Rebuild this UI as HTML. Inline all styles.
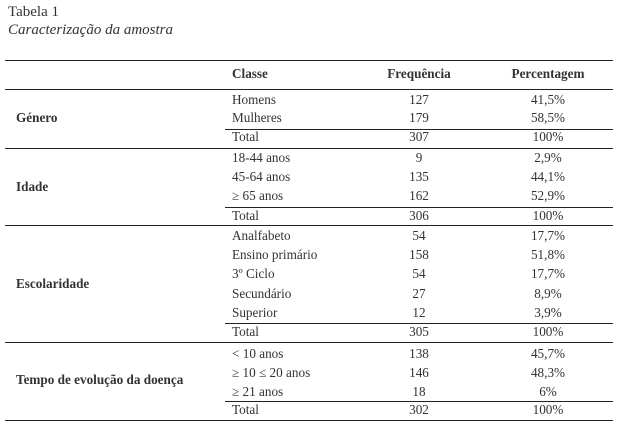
<!DOCTYPE html>
<html><head><meta charset="utf-8"><style>
body{margin:0;width:618px;height:426px;background:#fff;position:relative;overflow:hidden;font-family:"Liberation Serif",serif;color:#333;font-size:13.2px}
.t{position:absolute;white-space:nowrap;line-height:14px}
.c{transform:translateX(-50%)}
.b{font-weight:bold}
.l{position:absolute;height:1px;background:#222;right:5px}
</style></head><body>
<div class="t" style="left:8px;top:4px;font-size:15px;line-height:17px">Tabela 1</div>
<div class="t" style="left:8px;top:22px;font-size:15px;line-height:17px;font-style:italic">Caracterização da amostra</div>
<div class="l" style="left:5px;top:60px"></div>
<div class="t b" style="left:232px;top:67px">Classe</div>
<div class="t b c" style="left:419px;top:67px">Frequência</div>
<div class="t b c" style="left:548px;top:67px">Percentagem</div>
<div class="l" style="left:5px;top:89px"></div>

<div class="t b" style="left:16px;top:111px">Género</div>
<div class="t" style="left:232px;top:93px">Homens</div><div class="t c" style="left:419px;top:93px">127</div><div class="t c" style="left:548px;top:93px">41,5%</div>
<div class="t" style="left:232px;top:111px">Mulheres</div><div class="t c" style="left:419px;top:111px">179</div><div class="t c" style="left:548px;top:111px">58,5%</div>
<div class="l" style="left:225px;top:129px"></div>
<div class="t" style="left:232px;top:130px">Total</div><div class="t c" style="left:419px;top:130px">307</div><div class="t c" style="left:548px;top:130px">100%</div>
<div class="l" style="left:5px;top:148px"></div>

<div class="t b" style="left:16px;top:180px">Idade</div>
<div class="t" style="left:232px;top:151px">18-44 anos</div><div class="t c" style="left:419px;top:151px">9</div><div class="t c" style="left:548px;top:151px">2,9%</div>
<div class="t" style="left:232px;top:170px">45-64 anos</div><div class="t c" style="left:419px;top:170px">135</div><div class="t c" style="left:548px;top:170px">44,1%</div>
<div class="t" style="left:232px;top:189px">≥ 65 anos</div><div class="t c" style="left:419px;top:189px">162</div><div class="t c" style="left:548px;top:189px">52,9%</div>
<div class="l" style="left:225px;top:207px"></div>
<div class="t" style="left:232px;top:209px">Total</div><div class="t c" style="left:419px;top:209px">306</div><div class="t c" style="left:548px;top:209px">100%</div>
<div class="l" style="left:5px;top:225px"></div>

<div class="t b" style="left:16px;top:277px">Escolaridade</div>
<div class="t" style="left:232px;top:229px">Analfabeto</div><div class="t c" style="left:419px;top:229px">54</div><div class="t c" style="left:548px;top:229px">17,7%</div>
<div class="t" style="left:232px;top:248px">Ensino primário</div><div class="t c" style="left:419px;top:248px">158</div><div class="t c" style="left:548px;top:248px">51,8%</div>
<div class="t" style="left:232px;top:267px">3º Ciclo</div><div class="t c" style="left:419px;top:267px">54</div><div class="t c" style="left:548px;top:267px">17,7%</div>
<div class="t" style="left:232px;top:287px">Secundário</div><div class="t c" style="left:419px;top:287px">27</div><div class="t c" style="left:548px;top:287px">8,9%</div>
<div class="t" style="left:232px;top:306px">Superior</div><div class="t c" style="left:419px;top:306px">12</div><div class="t c" style="left:548px;top:306px">3,9%</div>
<div class="l" style="left:225px;top:323px"></div>
<div class="t" style="left:232px;top:325px">Total</div><div class="t c" style="left:419px;top:325px">305</div><div class="t c" style="left:548px;top:325px">100%</div>
<div class="l" style="left:5px;top:342px"></div>

<div class="t b" style="left:16px;top:373px">Tempo de evolução da doença</div>
<div class="t" style="left:232px;top:347px">&lt; 10 anos</div><div class="t c" style="left:419px;top:347px">138</div><div class="t c" style="left:548px;top:347px">45,7%</div>
<div class="t" style="left:232px;top:366px">≥ 10 ≤ 20 anos</div><div class="t c" style="left:419px;top:366px">146</div><div class="t c" style="left:548px;top:366px">48,3%</div>
<div class="t" style="left:232px;top:385px">≥ 21 anos</div><div class="t c" style="left:419px;top:385px">18</div><div class="t c" style="left:548px;top:385px">6%</div>
<div class="l" style="left:225px;top:401px"></div>
<div class="t" style="left:232px;top:403px">Total</div><div class="t c" style="left:419px;top:403px">302</div><div class="t c" style="left:548px;top:403px">100%</div>
<div class="l" style="left:5px;top:420px"></div>
</body></html>
